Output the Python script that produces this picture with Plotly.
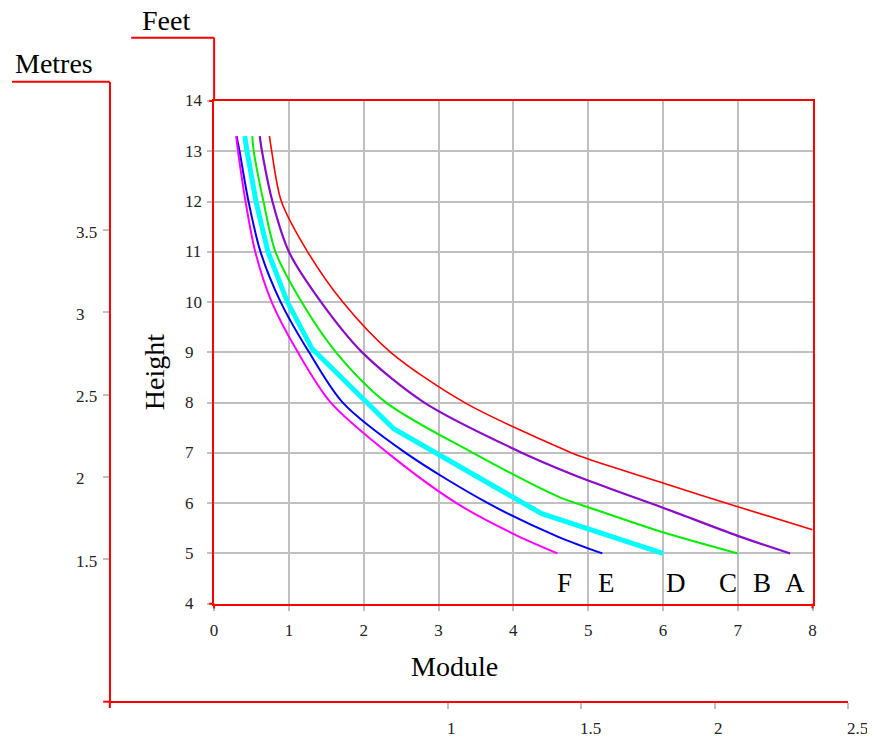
import plotly.graph_objects as go

# ---------------- data ----------------
a_module = [0.74, 0.77, 0.90, 1.25, 1.72, 2.36, 3.35, 4.78, 5.0, 6.0, 7.0, 8.0]
a_height = [13.3, 13.0, 12.0, 11.0, 10.0, 9.0, 8.0, 7.0, 6.88, 6.40, 5.93, 5.47]

b_module = [0.61, 0.64, 0.78, 1.00, 1.43, 1.98, 2.81, 4.12, 5.0, 6.0, 7.0, 7.70]
b_height = [13.3, 13.0, 12.0, 11.0, 10.0, 9.0, 8.0, 7.0, 6.45, 5.91, 5.35, 5.0]

c_module = [0.51, 0.53, 0.66, 0.82, 1.17, 1.63, 2.30, 3.46, 4.6, 5.0, 6.0, 7.0]
c_height = [13.3, 13.0, 12.0, 11.0, 10.0, 9.0, 8.0, 7.0, 6.13, 5.92, 5.42, 5.0]

d_module = [0.41, 0.44, 0.56, 0.72, 0.98, 1.31, 2.40, 4.38, 6.0]
d_height = [13.3, 13.0, 12.0, 11.0, 10.0, 9.07, 7.48, 5.79, 5.0]

e_module = [0.30, 0.34, 0.46, 0.62, 0.89, 1.27, 1.72, 2.56, 3.66, 4.6, 5.19]
e_height = [13.3, 13.0, 12.0, 11.0, 10.0, 9.0, 8.0, 7.0, 6.0, 5.33, 5.0]

f_module = [0.295, 0.32, 0.42, 0.55, 0.77, 1.12, 1.56, 2.32, 3.24, 4.0, 4.59]
f_height = [13.3, 13.0, 12.0, 11.0, 10.0, 9.0, 8.0, 7.0, 6.0, 5.39, 5.0]

series_names = ["A", "B", "C", "D", "E", "F"]
label_module = [7.76, 7.32, 6.87, 6.17, 5.25, 4.68]
label_height = 4.41

x_ticks = [0, 1, 2, 3, 4, 5, 6, 7, 8]
y_ticks = [4, 5, 6, 7, 8, 9, 10, 11, 12, 13, 14]
metre_y_ticks = [1.5, 2, 2.5, 3, 3.5]
metre_y_labels = ["1.5", "2", "2.5", "3", "3.5"]
metre_x_ticks = [1, 1.5, 2, 2.5]
metre_x_labels = ["1", "1.5", "2", "2.5"]

# ---------------- layout helpers ----------------
OFF = 8                     # page body margin
W, H = 875 - OFF, 740 - OFF
def px(x):
    return (x - OFF) / W
def py(y):
    return 1 - (y - OFF) / H

SERIF = "Liberation Serif, Times New Roman, serif"
RED = "#FF0000"
GRID = "#C0C0C0"
TICKC = "#222222"
TICK_SIZE = 17
TITLE_SIZE = 28

fig = go.Figure()

styles = [
    dict(color="#FF0000", width=1.6, shape="spline"),
    dict(color="#8A0CC8", width=2.2, shape="spline"),
    dict(color="#00EE00", width=2.0, shape="spline"),
    dict(color="#00FFFF", width=5.0, shape="linear"),
    dict(color="#0000FF", width=2.0, shape="spline"),
    dict(color="#FF00FF", width=2.0, shape="spline"),
]
data = [(a_module, a_height), (b_module, b_height), (c_module, c_height),
        (d_module, d_height), (e_module, e_height), (f_module, f_height)]
for name, (xs, ys), st in zip(series_names, data, styles):
    fig.add_trace(go.Scatter(x=xs, y=ys, mode="lines", name=name,
                             line=dict(color=st["color"], width=st["width"],
                                       shape=st["shape"], smoothing=0.85),
                             showlegend=False, hoverinfo="skip"))

# dummy trace so the metres axes exist
fig.add_trace(go.Scatter(x=[None], y=[None], xaxis="x2", yaxis="y2",
                         showlegend=False, hoverinfo="skip"))

# main frame geometry (reference pixels)
X0, X1 = 212, 816
Y0, Y1 = 101, 603.7
# metres axes geometry
MX, MY_TOP, MY_BOT = 106.7, 81.7, 701.7
MX_RIGHT = 851.7
m_per_px_y = 0.5 / 82.25
m_bottom = 1.5 - (MY_BOT - 559) * m_per_px_y
m_top = 1.5 + (559 - MY_TOP) * m_per_px_y
mx_per_px = 1.5 / (MX_RIGHT - 448.3)
mx_left = 1 - (448.3 - MX) * mx_per_px

fig.update_layout(
    width=W, height=H,
    margin=dict(l=0, r=0, t=0, b=0),
    paper_bgcolor="white", plot_bgcolor="rgba(0,0,0,0)",
    font=dict(family=SERIF, color="black"),
    xaxis=dict(domain=[px(X0), px(X1)], range=[0, 8], tickvals=x_ticks,
               ticks="outside", ticklen=5, tickwidth=2, tickcolor=GRID,
               showgrid=True, gridcolor=GRID, gridwidth=2,
               showline=True, linecolor=RED, linewidth=2, mirror=True,
               zeroline=False, anchor="y", ticklabelstandoff=5,
               tickfont=dict(family=SERIF, size=TICK_SIZE, color=TICKC)),
    yaxis=dict(domain=[py(Y1), py(Y0)], range=[4, 14], tickvals=y_ticks,
               ticks="outside", ticklen=5, tickwidth=2, tickcolor=GRID,
               showgrid=True, gridcolor=GRID, gridwidth=2,
               showline=True, linecolor=RED, linewidth=2, mirror=True,
               zeroline=False, anchor="x", showticklabels=False),
    xaxis2=dict(domain=[px(MX), px(MX_RIGHT)], range=[mx_left, 2.5],
                anchor="free", position=py(MY_BOT), tickvals=metre_x_ticks,
                ticks="outside", ticklen=6, tickwidth=2, tickcolor=GRID,
                showgrid=False, zeroline=False, showticklabels=False,
                showline=True, linecolor=RED, linewidth=2),
    yaxis2=dict(domain=[py(MY_BOT), py(MY_TOP)], range=[m_bottom, m_top],
                anchor="free", position=px(MX), tickvals=metre_y_ticks,
                ticks="outside", ticklen=6, tickwidth=2, tickcolor=GRID,
                showgrid=False, zeroline=False, showticklabels=False,
                showline=True, linecolor=RED, linewidth=2),
)

# extra red frame segments
def seg(x0, y0, x1, y1):
    fig.add_shape(type="line", xref="paper", yref="paper",
                  x0=px(x0), y0=py(y0), x1=px(x1), y1=py(y1),
                  line=dict(color=RED, width=2))

seg(X0, 37.7, X0, Y0)          # feet axis upward
seg(128.3, 37.7, X0, 37.7)     # feet header line
seg(207, Y0, X0, Y0)           # tick at 14
seg(207, Y1, X0, Y1)           # tick at 4
seg(X0, Y1, X0, 608.5)         # tick at 0
seg(X1, Y1, X1, 608.5)         # tick at 8
seg(OFF, MY_TOP, MX, MY_TOP)   # metres header line
seg(MX, MY_BOT, MX, 708)       # metres origin tick
seg(100, MY_BOT, MX, MY_BOT)   # metres origin tick

ann = []
# main y tick labels (left aligned)
for v in y_ticks:
    ann.append(dict(x=px(181), xref="paper", y=v, yref="y", text=str(v),
                    xanchor="left", yanchor="middle", showarrow=False,
                    font=dict(family=SERIF, size=TICK_SIZE, color=TICKC)))
# metres y tick labels
for v, t in zip(metre_y_ticks, metre_y_labels):
    ann.append(dict(x=px(71), xref="paper", y=v, yref="y2", text=t,
                    xanchor="left", yanchor="middle", showarrow=False, yshift=-2,
                    font=dict(family=SERIF, size=TICK_SIZE, color=TICKC)))
# metres x tick labels
for v, t in zip(metre_x_ticks, metre_x_labels):
    ann.append(dict(x=v, xref="x2", y=py(728), yref="paper", text=t,
                    xanchor="left", yanchor="middle", showarrow=False, xshift=-3,
                    font=dict(family=SERIF, size=TICK_SIZE, color=TICKC)))
# series labels
for name, lx in zip(series_names, label_module):
    ann.append(dict(x=lx, xref="x", y=label_height, yref="y", text=name,
                    xanchor="center", yanchor="middle", showarrow=False,
                    font=dict(family=SERIF, size=27, color="black")))
# titles
ann.append(dict(x=px(163), xref="paper", y=py(20), yref="paper", text="Feet",
                xanchor="center", yanchor="middle", showarrow=False,
                font=dict(family=SERIF, size=TITLE_SIZE, color="black")))
ann.append(dict(x=px(50), xref="paper", y=py(64), yref="paper", text="Metres",
                xanchor="center", yanchor="middle", showarrow=False,
                font=dict(family=SERIF, size=TITLE_SIZE, color="black")))
ann.append(dict(x=px(455), xref="paper", y=py(666), yref="paper", text="Module",
                xanchor="center", yanchor="middle", showarrow=False,
                font=dict(family=SERIF, size=TITLE_SIZE, color="black")))
ann.append(dict(x=px(152), xref="paper", y=py(372.5), yref="paper", text="Height",
                xanchor="center", yanchor="middle", showarrow=False, textangle=-90,
                font=dict(family=SERIF, size=TITLE_SIZE, color="black")))
fig.update_layout(annotations=ann)

fig.write_html("out.html")
